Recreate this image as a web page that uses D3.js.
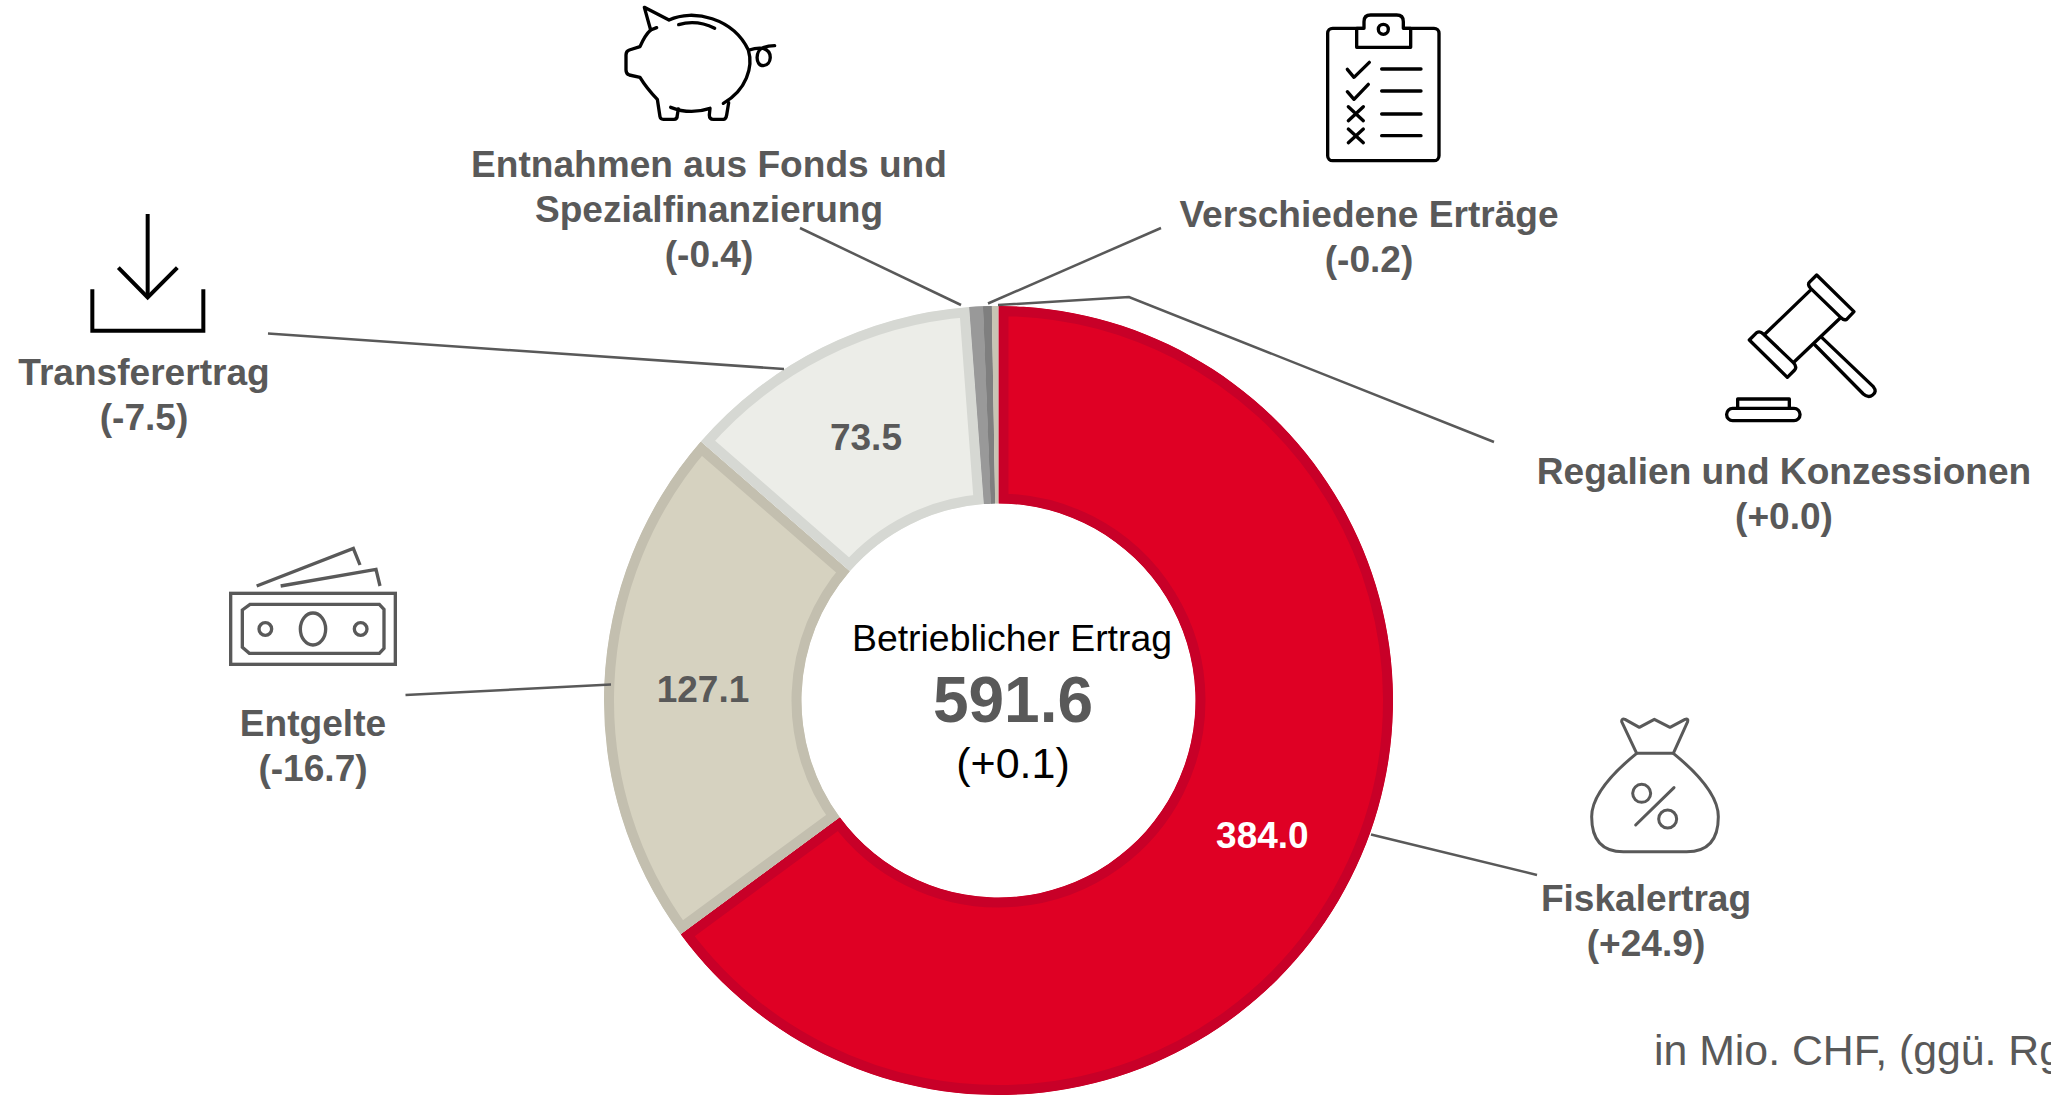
<!DOCTYPE html>
<html>
<head>
<meta charset="utf-8">
<script src="https://cdn.jsdelivr.net/npm/d3@7"></script>
<style>
    html, body { margin: 0; padding: 0; background: #fff; overflow: hidden; }
    text { font-family: "Liberation Sans", Arial, sans-serif; }
</style>
</head>
<body>
<div id="chart"></div>
<script>
// Slices, clockwise from twelve o'clock
var categories = ["Fiskalertrag", "Entgelte", "Transferertrag", "Entnahmen aus Fonds und Spezialfinanzierung", "Verschiedene Erträge", "Regalien und Konzessionen"];
var values = [384.0, 127.1, 73.5, 3.3, 2.1, 1.6];
var changes = ["(+24.9)", "(-16.7)", "(-7.5)", "(-0.4)", "(-0.2)", "(+0.0)"];
var valueLabels = ["384.0", "127.1", "73.5", null, null, null];
var fills = ["#DF0024", "#D6D2C0", "#ECEDE8", "#999999", "#7F7F7F", "#C8C4B4"];
var strokes = ["#C80028", "#C3BFAF", "#D6D8D3", "#999999", "#7F7F7F", "#C8C4B4"];
var valueColors = ["#ffffff", "#595959", "#595959"];

var totalTitle = "Betrieblicher Ertrag";
var totalValue = "591.6";
var totalChange = "(+0.1)";
var footnote = "in Mio. CHF, (ggü. Rg";

// Label blocks: text lines, centre x, first baseline
var labelBlocks = [
    { lines: ["Fiskalertrag", "(+24.9)"], x: 1646, y: 911 },
    { lines: ["Entgelte", "(-16.7)"], x: 313, y: 736 },
    { lines: ["Transferertrag", "(-7.5)"], x: 144, y: 385 },
    { lines: ["Entnahmen aus Fonds und", "Spezialfinanzierung", "(-0.4)"], x: 709, y: 177 },
    { lines: ["Verschiedene Erträge", "(-0.2)"], x: 1369, y: 227 },
    { lines: ["Regalien und Konzessionen", "(+0.0)"], x: 1784, y: 484 }
];

// Leader lines
var leaders = [
    [[1371, 834.5], [1537, 875]],
    [[405.5, 695], [611, 684.5]],
    [[268, 333.5], [784, 369]],
    [[800, 228], [961, 305]],
    [[1161, 228], [988, 303.5]],
    [[998, 305], [1129, 297], [1494, 442]]
];

const width = 2051;
const height = 1095;
const cx = 998.5;
const cy = 700.5;
const outerR = 394.5;
const innerR = 197;
const borderW = 10;

var svg = d3.select("#chart")
    .append("svg")
    .attr("width", width)
    .attr("height", height)
    .style("display", "block");

var pie = d3.pie().sort(null).value(d => d);
var arc = d3.arc().innerRadius(innerR).outerRadius(outerR);
var arcs = pie(values);

var defs = svg.append("defs");
var donut = svg.append("g").attr("transform", `translate(${cx},${cy})`);

// Border sits inside each slice, so stroke double width and clip to the slice
arcs.forEach((d, i) => {
    defs.append("clipPath")
        .attr("id", "slice" + i)
        .append("path")
        .attr("d", arc(d));

    donut.append("path")
        .attr("d", arc(d))
        .attr("clip-path", `url(#slice${i})`)
        .style("fill", fills[i])
        .style("stroke", strokes[i])
        .style("stroke-width", borderW * 2);
});

// Values inside the ring
arcs.forEach((d, i) => {
    if (valueLabels[i] == null) return;
    var c = arc.centroid(d);
    donut.append("text")
        .attr("x", c[0])
        .attr("y", c[1] + 1)
        .attr("dy", "0.35em")
        .attr("text-anchor", "middle")
        .style("font-size", "37px")
        .style("font-weight", "bold")
        .style("fill", valueColors[i])
        .text(valueLabels[i]);
});

// Centre text
svg.append("text")
    .attr("x", 1012).attr("y", 651)
    .attr("text-anchor", "middle")
    .style("font-size", "37.4px")
    .style("fill", "#000")
    .text(totalTitle);
svg.append("text")
    .attr("x", 1013).attr("y", 722)
    .attr("text-anchor", "middle")
    .style("font-size", "64px")
    .style("font-weight", "bold")
    .style("fill", "#595959")
    .text(totalValue);
svg.append("text")
    .attr("x", 1013).attr("y", 778)
    .attr("text-anchor", "middle")
    .style("font-size", "43px")
    .style("fill", "#000")
    .text(totalChange);

// Leader lines
var leaderLine = d3.line();
leaders.forEach(pts => {
    svg.append("path")
        .attr("d", leaderLine(pts))
        .style("fill", "none")
        .style("stroke", "#595959")
        .style("stroke-width", 2.5);
});

// Category labels
labelBlocks.forEach(b => {
    var t = svg.append("text")
        .attr("text-anchor", "middle")
        .style("font-size", "37.1px")
        .style("font-weight", "bold")
        .style("fill", "#595959");
    b.lines.forEach((line, k) => {
        t.append("tspan")
            .attr("x", b.x)
            .attr("y", b.y + k * 45)
            .text(line);
    });
});

svg.append("text")
    .attr("x", 1654).attr("y", 1065)
    .style("font-size", "42.8px")
    .style("fill", "#595959")
    .text(footnote);

// Icons, drawn in crop units (3 per pixel) and scaled down
function icon(x, y, color, sw) {
    return svg.append("g")
        .attr("transform", `translate(${x},${y}) scale(${1 / 3})`)
        .style("fill", "none")
        .style("stroke", color)
        .style("stroke-width", sw)
        .style("stroke-linecap", "round")
        .style("stroke-linejoin", "round");
}

// Piggy bank
var pig = icon(600, 0, "#000", 10);
pig.append("path").attr("d", "M170,83 L152,90 L133,22 L207,60 C280,25 400,55 445,150 C460,200 440,270 370,310");
pig.append("path").attr("d", "M152,90 Q135,105 120,140 L88,150 Q78,153 78,165 L78,210 Q78,222 88,225 L120,232 Q140,265 172,298 L180,350 Q181,358 190,358 L222,358 Q232,358 232,345 L235,327");
pig.append("path").attr("d", "M212,322 Q270,345 330,325 L328,345 Q328,358 340,358 L370,358 Q378,358 380,345 L386,308");
pig.append("path").attr("d", "M236,74 Q290,58 344,85");
pig.append("path").attr("d", "M448,150 Q470,142 490,145 C520,155 515,195 490,197 C465,197 465,150 490,143 Q505,137 524,137");

// Clipboard
var board = icon(1300, 0, "#000", 10);
board.append("rect").attr("x", 83).attr("y", 85).attr("width", 334).attr("height", 397).attr("rx", 15);
board.append("path").attr("d", "M170,85 V142 H332 V85 H310 V65 Q310,45 290,45 H212 Q192,45 192,65 V85 Z").style("fill", "#fff");
board.append("circle").attr("cx", 250).attr("cy", 88).attr("r", 15);
board.append("path").attr("d", "M142,208 L162,232 L208,187 M142,275 L162,298 L205,253");
board.append("path").attr("d", "M145,320 L190,362 M190,320 L145,362 M145,387 L190,428 M190,387 L145,428");
board.append("path").attr("d", "M245,207 H363 M245,273 H363 M245,342 H363 M245,407 H363");

// Gavel
var gavel = icon(1700, 260, "#000", 10);
gavel.append("path").attr("d", "M195,222 L330,92 M420,175 L283,305");
gavel.append("path").attr("d", "M350,45 L462,155 L440,178 Q430,182 422,172 L332,85 Q320,72 330,65 Z");
gavel.append("path").attr("d", "M148,240 L170,218 Q180,212 190,222 L280,308 Q292,320 284,330 L262,352 Z");
gavel.append("path").attr("d", "M365,232 L520,380 Q532,395 518,405 Q505,415 490,402 L345,255");
gavel.append("rect").attr("x", 80).attr("y", 445).attr("width", 220).attr("height", 37).attr("rx", 18);
gavel.append("path").attr("d", "M113,445 V417 H268 V445");

// Money bag
var bag = icon(1570, 700, "#595959", 9);
bag.append("path").attr("d", "M200,160 L155,65 Q154,55 165,58 L208,82 L253,58 L300,82 L345,58 Q356,55 353,65 L310,160 Z");
bag.append("path").attr("d", "M200,160 Q65,270 65,350 Q65,455 160,455 H350 Q445,455 445,350 Q445,270 310,160");
bag.append("circle").attr("cx", 215).attr("cy", 280).attr("r", 27);
bag.append("circle").attr("cx", 293).attr("cy", 357).attr("r", 27);
bag.append("path").attr("d", "M312,263 L197,375");

// Bank notes
var notes = icon(210, 530, "#595959", 10).style("stroke-linecap", "butt").style("stroke-linejoin", "miter");
notes.append("rect").attr("x", 62).attr("y", 190).attr("width", 494).attr("height", 213);
notes.append("path").attr("d", "M120,223 H508 L522,238 V355 L508,370 H118 L97,352 V240 Z");
notes.append("circle").attr("cx", 166).attr("cy", 297).attr("r", 19);
notes.append("circle").attr("cx", 452).attr("cy", 297).attr("r", 19);
notes.append("ellipse").attr("cx", 309).attr("cy", 297).attr("rx", 38).attr("ry", 48);
notes.append("path").attr("d", "M140,168 L430,55 L450,105 M212,168 L498,118 L510,168");

// Download arrow
var arrow = icon(70, 200, "#000", 12).style("stroke-linecap", "butt").style("stroke-linejoin", "miter");
arrow.append("path").attr("d", "M233,42 V290");
arrow.append("path").attr("d", "M145,203 L233,292 L322,203");
arrow.append("path").attr("d", "M67,268 V392 H400 V268");
</script>
</body>
</html>
